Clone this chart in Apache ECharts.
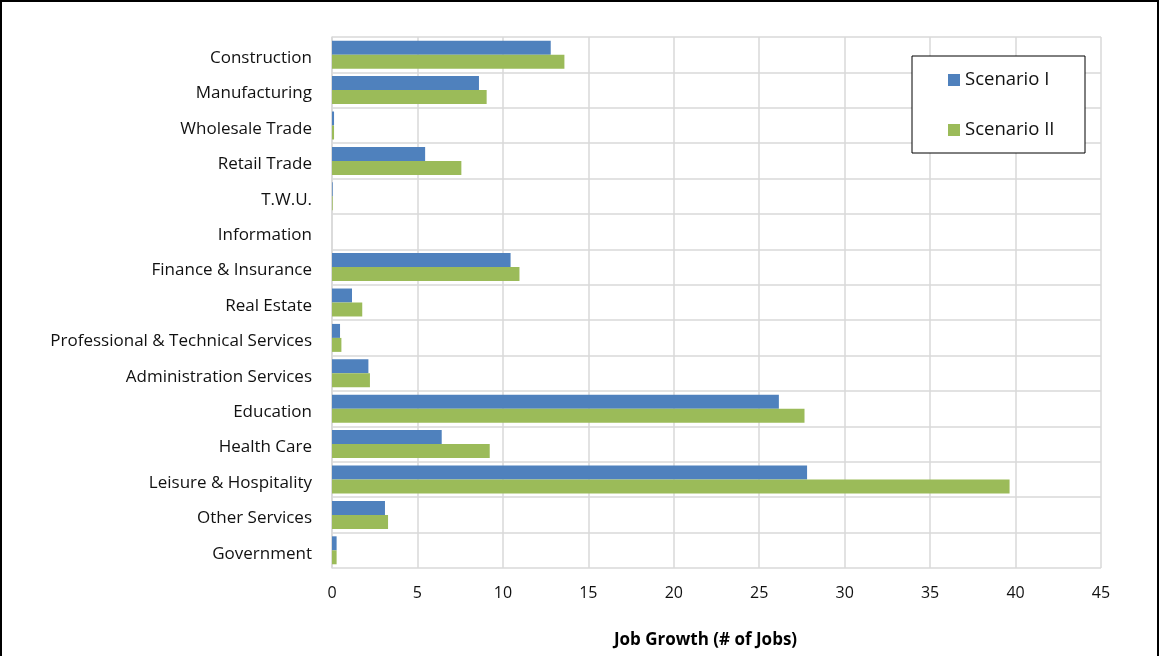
<!DOCTYPE html>
<html>
<head>
<meta charset="utf-8">
<script src="https://cdn.jsdelivr.net/npm/echarts@6/dist/echarts.min.js"></script>
<style>
  html, body { margin: 0; padding: 0; background: #fff; }
  #frame { position: absolute; left: 0; top: 0; width: 1159px; height: 656px; box-sizing: border-box;
           border-top: 2px solid #000; border-left: 2px solid #000; border-right: 2px solid #000; }
  #chart { position: absolute; left: 0; top: 0; width: 1159px; height: 656px; }
</style>
</head>
<body>
<div id="chart"></div>
<div id="frame"></div>
<script>
// Industry sectors, listed top to bottom
const industries = [
  'Construction', 'Manufacturing', 'Wholesale Trade', 'Retail Trade', 'T.W.U.',
  'Information', 'Finance & Insurance', 'Real Estate', 'Professional & Technical Services',
  'Administration Services', 'Education', 'Health Care', 'Leisure & Hospitality',
  'Other Services', 'Government'
];
// Job growth per sector under each scenario
const scenarioI  = [12.8, 8.6, 0.12, 5.45, 0.04, 0, 10.45, 1.17, 0.47, 2.13, 26.15, 6.42, 27.8, 3.1, 0.27];
const scenarioII = [13.6, 9.05, 0.12, 7.57, 0.04, 0, 10.97, 1.77, 0.55, 2.22, 27.65, 9.23, 39.65, 3.28, 0.27];
const xTicks = { min: 0, max: 45, interval: 5 };

const font = '"Open Sans", "Noto Sans", sans-serif';
const chart = echarts.init(document.getElementById('chart'));
chart.setOption({
  animation: false,
  textStyle: { fontFamily: font },
  grid: { left: 332, right: 58, top: 37, bottom: 88, containLabel: false },
  // framed box behind the legend entries
  graphic: [{
    type: 'rect',
    shape: { x: 912, y: 56, width: 173, height: 97 },
    style: { fill: '#fff', stroke: '#000', lineWidth: 1 },
    z: 10
  }],
  legend: {
    orient: 'vertical',
    left: 948, top: 68,
    padding: 0,
    itemGap: 26,
    itemWidth: 12, itemHeight: 12,
    z: 20,
    textStyle: { fontSize: 18.5, lineHeight: 24, color: '#111', fontFamily: font },
    data: [
      { name: 'Scenario I', icon: 'rect' },
      { name: 'Scenario II', icon: 'rect' }
    ]
  },
  xAxis: {
    type: 'value',
    min: xTicks.min, max: xTicks.max, interval: xTicks.interval,
    name: 'Job Growth (# of Jobs)',
    nameLocation: 'middle',
    nameGap: 64,
    nameTextStyle: { fontSize: 17, fontWeight: 'bold', color: '#000', fontFamily: font, padding: [0, 22, 0, 0] },
    axisLine: { show: false },
    axisTick: { show: false },
    axisLabel: { fontSize: 16, color: '#111', margin: 17 },
    splitLine: { lineStyle: { color: '#d9d9d9', width: 1.5 } }
  },
  yAxis: {
    type: 'category',
    inverse: true,
    data: industries,
    axisLine: { show: true, lineStyle: { color: '#d9d9d9', width: 1.5 } },
    axisTick: { show: false },
    axisLabel: {
      fontSize: 17, color: '#111', margin: 20,
      formatter: (v) => '{c|' + v + '}',
      rich: { c: { fontSize: 17, color: '#111', fontFamily: font, padding: [7, 0, 0, 0] } }
    },
    splitLine: { show: true, lineStyle: { color: '#d9d9d9', width: 1.5 } }
  },
  series: [
    {
      name: 'Scenario I', type: 'bar', data: scenarioI,
      itemStyle: { color: '#4f81bd' },
      barGap: '0%', barCategoryGap: '21%'
    },
    {
      name: 'Scenario II', type: 'bar', data: scenarioII,
      itemStyle: { color: '#9bbb59' },
      barGap: '0%', barCategoryGap: '21%'
    }
  ]
});
</script>
</body>
</html>
